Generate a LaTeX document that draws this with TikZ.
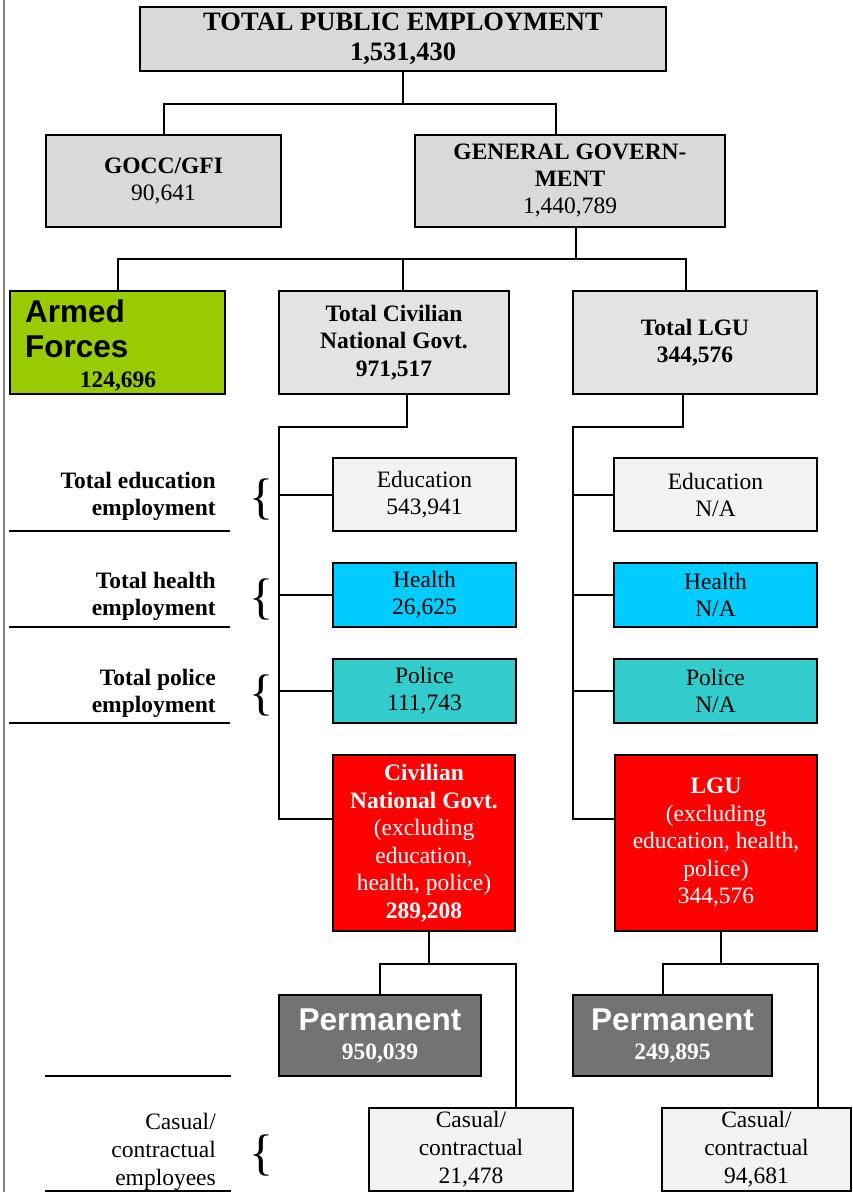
\documentclass[tikz,border=0pt]{standalone}
\usepackage{fontspec}
\setmainfont{Liberation Serif}
\setsansfont{Liberation Sans}
\usetikzlibrary{positioning}
\definecolor{headgray}{HTML}{D9D9D9}
\definecolor{civgray}{HTML}{E3E3E3}
\definecolor{palegray}{HTML}{F2F2F2}
\definecolor{healthblue}{HTML}{00CCFF}
\definecolor{policeteal}{HTML}{33CCCC}
\definecolor{armygreen}{HTML}{99CC00}
\definecolor{permgray}{HTML}{737373}
\definecolor{sidegray}{HTML}{808080}
\tikzstyle{unit} = [rectangle, draw=black, line width=2pt, inner sep=0pt, align=center, font=\fontsize{23.5}{27}\selectfont]
\tikzstyle{head} = [unit, fill=headgray]
\tikzstyle{branch} = [unit, fill=civgray]
\tikzstyle{edu} = [unit, fill=palegray]
\tikzstyle{health} = [unit, fill=healthblue]
\tikzstyle{police} = [unit, fill=policeteal]
\tikzstyle{rest} = [unit, fill=red, text=white, font=\fontsize{23.5}{27.5}\selectfont]
\tikzstyle{perm} = [unit, fill=permgray, text=white, font=\fontsize{23.5}{29}\selectfont]
\tikzstyle{casual} = [unit, fill=palegray, font=\fontsize{23.5}{28}\selectfont]
\tikzstyle{link} = [line width=2pt]
\tikzstyle{rule} = [line width=2pt]
\tikzstyle{side} = [anchor=east, inner sep=0pt, align=right, font=\fontsize{23.5}{27}\selectfont\bfseries]
\tikzstyle{curly} = [inner sep=0pt, font=\fontsize{50}{50}\selectfont]
\newcommand{\bigsans}{\sffamily\bfseries\fontsize{31.5}{35}\selectfont}

\begin{document}
\begin{tikzpicture}[x=1pt,y=-1pt]
    \useasboundingbox (0,0) rectangle (852,1192);
    \draw [line width=2pt, sidegray] (4,0) -- (4,1192);

    \node (top) [head, minimum width=526pt, minimum height=64pt, font=\fontsize{26.5}{30}\selectfont\bfseries] at (403,39) {TOTAL PUBLIC EMPLOYMENT\\1,531,430};

    \node (gocc) [head, minimum width=235pt, minimum height=92pt] at (163.5,181) {\textbf{GOCC/GFI}\\90,641};
    \node (gg) [head, minimum width=310pt, minimum height=92pt] at (570,181) {\textbf{GENERAL GOVERN-}\\\textbf{MENT}\\1,440,789};

    \node (armed) [unit, fill=armygreen, minimum width=215pt, minimum height=103pt] at (117.5,342.5) {};
    \node (armedlbl) [anchor=north west, inner sep=0pt, align=left, font=\bigsans] at (25,299) {Armed\\Forces};
    \node (armednum) [anchor=base, inner sep=0pt, font=\fontsize{23.5}{27}\selectfont\bfseries] at (118,387) {124,696};
    \node (civ) [branch, minimum width=230pt, minimum height=103pt, font=\fontsize{23.5}{27.5}\selectfont\bfseries] at (394,342.5) {Total Civilian\\National Govt.\\971,517};
    \node (lgu) [branch, minimum width=244pt, minimum height=103pt, font=\fontsize{23.5}{27.5}\selectfont\bfseries] at (695,342.5) {Total LGU\\344,576};

    % civilian national government
    \node (eduC) [edu, minimum width=183pt, minimum height=73pt] at (424.5,494.5) {Education\\543,941};
    \node (heaC) [health, minimum width=183pt, minimum height=64pt] at (424.5,595) {Health\\26,625};
    \node (polC) [police, minimum width=183pt, minimum height=64pt] at (424.5,691) {Police\\111,743};
    \node (redciv) [rest, minimum width=182pt, minimum height=176pt] at (424,843) {\textbf{Civilian}\\\textbf{National Govt.}\\(excluding\\education,\\health, police)\\\textbf{289,208}};
    \node (permC) [perm, minimum width=202pt, minimum height=81pt] at (380,1035.5) {{\bigsans Permanent}\\\textbf{950,039}};
    \node (casC) [casual, minimum width=204pt, minimum height=83pt] at (471,1149.5) {Casual/\\contractual\\21,478};

    % local government units
    \node (eduL) [edu, minimum width=203pt, minimum height=73pt] at (715.5,494.5) {Education\\N/A};
    \node (heaL) [health, minimum width=203pt, minimum height=64pt] at (715.5,595) {Health\\N/A};
    \node (polL) [police, minimum width=203pt, minimum height=64pt] at (715.5,691) {Police\\N/A};
    \node (redlgu) [rest, minimum width=202pt, minimum height=176pt] at (716,843) {\textbf{LGU}\\(excluding\\education, health,\\police)\\344,576};
    \node (permL) [perm, minimum width=199pt, minimum height=81pt] at (672.5,1035.5) {{\bigsans Permanent}\\\textbf{249,895}};
    \node (casL) [casual, minimum width=189pt, minimum height=83pt] at (756.5,1149.5) {Casual/\\contractual\\94,681};

    % side labels
    \node (sedu) [side] at (216,496) {Total education\\employment};
    \node (shea) [side] at (216,596.5) {Total health\\employment};
    \node (spol) [side] at (216,693) {Total police\\employment};
    \node (scas) [side, font=\fontsize{23.5}{28}\selectfont] at (216,1151.5) {Casual/\\contractual\\employees};
    \node (bedu) [curly] at (261,499) {\{};
    \node (bhea) [curly] at (261,599) {\{};
    \node (bpol) [curly] at (261,695) {\{};
    \node (bcas) [curly] at (261,1155) {\{};
    \draw [rule] (9,531) -- (230,531);
    \draw [rule] (9,627) -- (230,627);
    \draw [rule] (9,723) -- (230,723);
    \draw [rule] (45,1076) -- (231,1076);
    \draw [rule] (45,1191) -- (231,1191);

    % connectors
    \draw [link] (top.south) -- ++(0,32) coordinate (topbus) -| (gocc.north);
    \draw [link] (topbus) -| ([xshift=-14pt]gg.north);
    \draw [link] ([xshift=6pt]gg.south) -- ++(0,31) coordinate (ggbus);
    \draw [link] (ggbus) -| (armed.north);
    \draw [link] (ggbus) -| ([xshift=9pt]civ.north);
    \draw [link] (ggbus) -| ([xshift=-9pt]lgu.north);

    \coordinate (civtrunk) at (279,819);
    \coordinate (lgutrunk) at (573,819);
    \draw [link] ([xshift=13pt]civ.south) -- ++(0,32) -| (civtrunk) -- (civtrunk -| redciv.west);
    \draw [link] ([xshift=-12pt]lgu.south) -- ++(0,32) -| (lgutrunk) -- (lgutrunk -| redlgu.west);
    \foreach \n in {eduC,heaC,polC}
        \draw [link] (civtrunk |- \n.west) -- (\n.west);
    \foreach \n in {eduL,heaL,polL}
        \draw [link] (lgutrunk |- \n.west) -- (\n.west);

    \draw [link] ([xshift=5pt]redciv.south) -- ++(0,32) coordinate (civsplit) -| (permC.north);
    \draw [link] (civsplit) -| (redciv.east |- casC.north);
    \draw [link] ([xshift=5pt]redlgu.south) -- ++(0,32) coordinate (lgusplit) -| ([xshift=-10pt]permL.north);
    \draw [link] (lgusplit) -| (redlgu.east |- casL.north);
\end{tikzpicture}
\end{document}
